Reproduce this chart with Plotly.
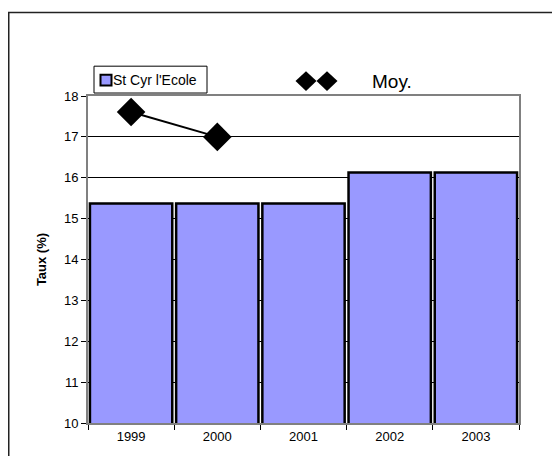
import plotly.graph_objects as go

years = ["1999", "2000", "2001", "2002", "2003"]
st_cyr = [15.37, 15.37, 15.37, 16.13, 16.13]
moy_years = ["1999", "2000"]
moy = [17.61, 17.0]

OFF = 8  # page body margin
W, H = 560, 456 - OFF
# plot area in reference pixel coords
RL, RR, RT, RB = 88, 519, 96, 425
L, R, T, B = RL - OFF, RR - OFF, RT - OFF, RB - OFF
pw, ph = R - L, B - T

def px(x):  # reference pixel x -> paper
    return (x - OFF - L) / pw

def py(y):  # reference pixel y -> paper
    return (B - (y - OFF)) / ph

fig = go.Figure()
fig.add_trace(go.Bar(
    x=years, y=st_cyr, name="St Cyr l'Ecole",
    marker=dict(color="#9999FF", line=dict(color="black", width=2.5)),
    showlegend=False,
))
fig.add_trace(go.Scatter(
    x=moy_years, y=moy, name="Moy.", mode="lines+markers",
    line=dict(color="black", width=2),
    marker=dict(symbol="diamond", size=22, color="black"),
    showlegend=False,
))

def diamond(cx, cy, hw, hh):
    return (f"M {px(cx - hw)} {py(cy)} L {px(cx)} {py(cy - hh)} "
            f"L {px(cx + hw)} {py(cy)} L {px(cx)} {py(cy + hh)} Z")

shapes = [
    # outer chart frame
    dict(type="rect", xref="paper", yref="paper",
         x0=px(OFF + 0.75), x1=px(700), y0=py(520), y1=py(12),
         line=dict(color="#222222", width=1.5), layer="below"),
    # legend box
    dict(type="rect", xref="paper", yref="paper",
         x0=px(94), x1=px(207), y0=py(93), y1=py(66),
         line=dict(color="black", width=1), fillcolor="white"),
    # legend swatch
    dict(type="rect", xref="paper", yref="paper",
         x0=px(100.5), x1=px(111.5), y0=py(85.5), y1=py(74.5),
         line=dict(color="black", width=2), fillcolor="#9999FF"),
    # Moy. legend diamonds
    dict(type="path", xref="paper", yref="paper", path=diamond(306, 81, 10.5, 10),
         line=dict(color="black", width=0), fillcolor="black"),
    dict(type="path", xref="paper", yref="paper", path=diamond(327, 81, 10.5, 10),
         line=dict(color="black", width=0), fillcolor="black"),
]

fig.update_layout(
    width=W, height=H,
    margin=dict(l=L, r=W - R, t=T, b=H - B, pad=0),
    paper_bgcolor="white", plot_bgcolor="white",
    bargap=0.045,
    font=dict(family="Liberation Sans, Arial", size=13, color="black"),
    showlegend=False,
    xaxis=dict(
        type="category", showgrid=False, ticks="outside", tickson="boundaries",
        ticklen=5, tickcolor="black", showline=True, linecolor="#808080",
        linewidth=2, mirror=True, tickfont=dict(size=13),
    ),
    yaxis=dict(
        range=[10, 18], dtick=1, showgrid=True, gridcolor="black", gridwidth=1,
        ticks="outside", ticklen=5, tickcolor="black", showline=True,
        linecolor="#808080", linewidth=2, mirror=True, zeroline=False,
        tickfont=dict(size=13),
        title=dict(text="<b>Taux (%)</b>", font=dict(size=13), standoff=14),
    ),
    shapes=shapes,
    annotations=[
        dict(xref="paper", yref="paper", x=px(113), y=py(80), text="St Cyr l'Ecole",
             showarrow=False, font=dict(size=14, color="black"),
             xanchor="left", yanchor="middle", xshift=-2),
        dict(xref="paper", yref="paper", x=px(372), y=py(81), text="Moy.",
             showarrow=False, font=dict(size=19, color="black"),
             xanchor="left", yanchor="middle", xshift=-2),
    ],
)

fig.write_html("out.html")
